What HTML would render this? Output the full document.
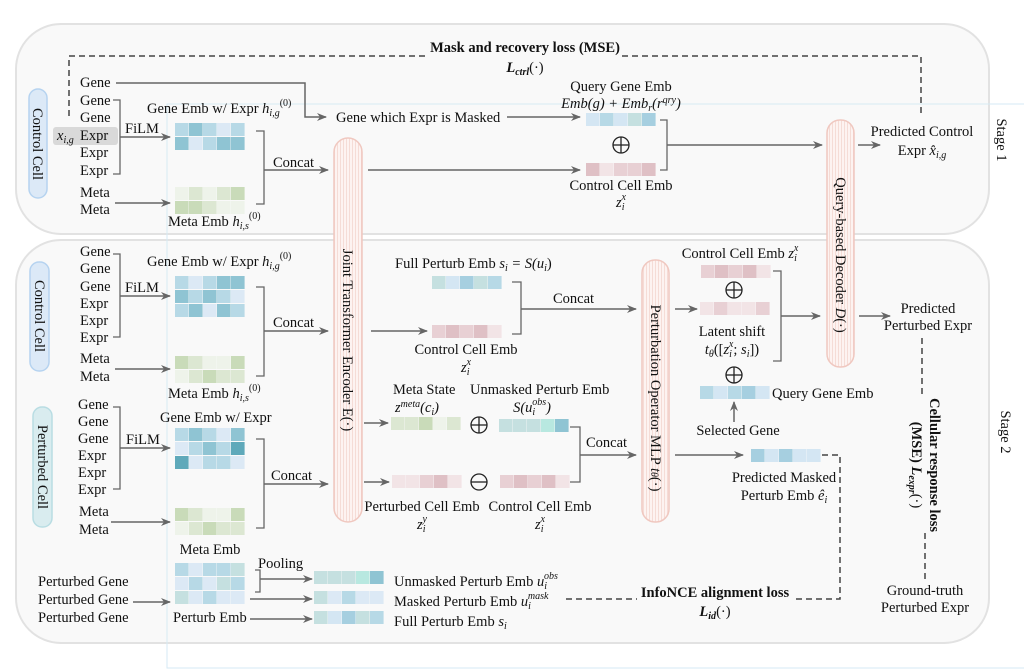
<!DOCTYPE html>
<html><head><meta charset="utf-8"><style>
body{margin:0;background:#fff}
svg{display:block}
text{font-family:"Liberation Serif",serif;font-size:14.5px;fill:#111}
.i{font-style:italic}
.b{font-weight:bold}
</style></head><body>
<svg width="1024" height="671" viewBox="0 0 1024 671" xmlns="http://www.w3.org/2000/svg">
<defs>
<marker id="a" markerWidth="10" markerHeight="10" refX="9" refY="5" orient="auto" markerUnits="userSpaceOnUse"><path d="M0,1 L10,5 L0,9 L3,5 Z" fill="#666"/></marker>
<pattern id="st" width="3" height="4" patternUnits="userSpaceOnUse"><rect width="3" height="4" fill="#fdf3f1"/><line x1="1.5" y1="0" x2="1.5" y2="4" stroke="#f3d6d0" stroke-width="0.8"/></pattern>
<g id="op"><circle r="8" fill="none" stroke="#222" stroke-width="1.3"/><line x1="-8" y1="0" x2="8" y2="0" stroke="#222" stroke-width="1.3"/><line x1="0" y1="-8" x2="0" y2="8" stroke="#222" stroke-width="1.3"/></g>
<g id="om"><circle r="8" fill="none" stroke="#222" stroke-width="1.3"/><line x1="-8" y1="0" x2="8" y2="0" stroke="#222" stroke-width="1.3"/></g>
</defs>
<rect x="16" y="24" width="973" height="210" rx="45" fill="#f9f9f9" stroke="#e2e2e2" stroke-width="2"/>
<rect x="16" y="240" width="973" height="403" rx="45" fill="#f9f9f9" stroke="#e2e2e2" stroke-width="2"/>
<rect x="167" y="104" width="870" height="564" fill="none" stroke="#d6eaf4" stroke-width="1"/>

<rect x="29" y="89" width="18" height="109" rx="9" fill="#dce9f7" stroke="#b6d3f0" stroke-width="1.5"/>
<text transform="translate(33,144) rotate(90)" text-anchor="middle">Control Cell</text>
<rect x="30" y="262" width="19" height="109" rx="9" fill="#dce9f7" stroke="#b6d3f0" stroke-width="1.5"/>
<text transform="translate(35,316) rotate(90)" text-anchor="middle">Control Cell</text>
<rect x="33" y="407" width="19" height="120" rx="9" fill="#d9ecef" stroke="#b9dde3" stroke-width="1.5"/>
<text transform="translate(38,467) rotate(90)" text-anchor="middle">Perturbed Cell</text>

<rect x="334" y="138" width="28" height="384" rx="14" fill="url(#st)" stroke="#f0c8c0" stroke-width="1.5"/>
<text transform="translate(343,340) rotate(90)" text-anchor="middle">Joint Transformer Encoder E(·)</text>
<rect x="642" y="260" width="27" height="262" rx="13" fill="url(#st)" stroke="#f0c8c0" stroke-width="1.5"/>
<text transform="translate(651,398) rotate(90)" text-anchor="middle">Perturbation Operator MLP  <tspan class="i">t</tspan><tspan font-size="10" class="i">θ</tspan>(·)</text>
<rect x="827" y="120" width="27" height="247" rx="13" fill="url(#st)" stroke="#f0c8c0" stroke-width="1.5"/>
<text transform="translate(836,255) rotate(90)" text-anchor="middle">Query-based Decoder <tspan class="i">D</tspan>(·)</text>

<g>
<text x="80" y="87">Gene</text><text x="80" y="105">Gene</text><text x="80" y="122">Gene</text>
<rect x="53" y="127" width="65" height="18" rx="3" fill="#d9d9d9"/>
<text x="57" y="140" class="i">x<tspan font-size="10" dy="3">i,g</tspan></text><text x="80" y="140">Expr</text>
<text x="80" y="157">Expr</text><text x="80" y="175">Expr</text>
<text x="80" y="197">Meta</text><text x="80" y="214">Meta</text>
</g>
<path d="M113,100 H120 V174 H113" fill="none" stroke="#666" stroke-width="1.3"/>
<text x="125" y="133">FiLM</text>
<line x1="120" y1="137" x2="170" y2="137" stroke="#666" stroke-width="1.5" marker-end="url(#a)"/>
<line x1="115" y1="203" x2="170" y2="203" stroke="#666" stroke-width="1.5" marker-end="url(#a)"/>
<text x="147" y="113">Gene Emb w/ Expr <tspan class="i">h</tspan><tspan font-size="10" dy="3" class="i">i,g</tspan><tspan font-size="10" dy="-10">(0)</tspan></text>
<text x="168" y="226">Meta Emb <tspan class="i">h</tspan><tspan font-size="10" dy="3" class="i">i,s</tspan><tspan font-size="10" dy="-10">(0)</tspan></text>
<g>
<rect x="175" y="123" width="13.6" height="13" fill="#b7d9e6"/><rect x="189" y="123" width="13.6" height="13" fill="#8fc4d3"/><rect x="203" y="123" width="13.6" height="13" fill="#b7d9e6"/><rect x="217" y="123" width="13.6" height="13" fill="#dce9f5"/><rect x="231" y="123" width="13.6" height="13" fill="#b7d9e6"/>
<rect x="175" y="137" width="13.6" height="13" fill="#8fc4d3"/><rect x="189" y="137" width="13.6" height="13" fill="#dce9f5"/><rect x="203" y="137" width="13.6" height="13" fill="#b7d9e6"/><rect x="217" y="137" width="13.6" height="13" fill="#8fc4d3"/><rect x="231" y="137" width="13.6" height="13" fill="#8fc4d3"/>
<rect x="175" y="187" width="13.6" height="13" fill="#eef3ea"/><rect x="189" y="187" width="13.6" height="13" fill="#dce7d2"/><rect x="203" y="187" width="13.6" height="13" fill="#eef3ea"/><rect x="217" y="187" width="13.6" height="13" fill="#dce7d2"/><rect x="231" y="187" width="13.6" height="13" fill="#c9dbb9"/>
<rect x="175" y="201" width="13.6" height="13" fill="#c9dbb9"/><rect x="189" y="201" width="13.6" height="13" fill="#c9dbb9"/><rect x="203" y="201" width="13.6" height="13" fill="#dce7d2"/><rect x="217" y="201" width="13.6" height="13" fill="#eef3ea"/><rect x="231" y="201" width="13.6" height="13" fill="#eef3ea"/>
</g>
<path d="M256,131 H264 V204 H256" fill="none" stroke="#666" stroke-width="1.3"/>
<text x="273" y="167">Concat</text>
<line x1="264" y1="170" x2="328" y2="170" stroke="#666" stroke-width="1.5" marker-end="url(#a)"/>
<path d="M116,83 H305 V117 H326" fill="none" stroke="#666" stroke-width="1.5" marker-end="url(#a)"/>
<text x="336" y="122">Gene which Expr is Masked</text>
<line x1="507" y1="117" x2="580" y2="117" stroke="#666" stroke-width="1.5" marker-end="url(#a)"/>
<line x1="368" y1="170" x2="580" y2="170" stroke="#666" stroke-width="1.5" marker-end="url(#a)"/>
<text x="621" y="91" text-anchor="middle">Query Gene Emb</text>
<text x="621" y="108" text-anchor="middle" class="i">Emb(g) + Emb<tspan font-size="10" dy="3">r</tspan><tspan dy="-3">(r</tspan><tspan font-size="10" dy="-5">qry</tspan><tspan dy="5">)</tspan></text>
<g><rect x="586" y="113" width="13.6" height="13" fill="#d4e6f3"/><rect x="600" y="113" width="13.6" height="13" fill="#b7d9e6"/><rect x="614" y="113" width="13.6" height="13" fill="#d4e6f3"/><rect x="628" y="113" width="13.6" height="13" fill="#c5e0e0"/><rect x="642" y="113" width="13.6" height="13" fill="#a6cfe0"/></g>
<use href="#op" x="621" y="145"/>
<g><rect x="586" y="163" width="13.6" height="13" fill="#dfc0c5"/><rect x="600" y="163" width="13.6" height="13" fill="#f2e4e6"/><rect x="614" y="163" width="13.6" height="13" fill="#e8d0d4"/><rect x="628" y="163" width="13.6" height="13" fill="#e8d0d4"/><rect x="642" y="163" width="13.6" height="13" fill="#dfc0c5"/></g>
<text x="621" y="190" text-anchor="middle">Control Cell Emb</text>
<text x="621" y="207" text-anchor="middle" class="i">z<tspan font-size="10" dy="3">i</tspan><tspan font-size="10" dy="-10" dx="-3">x</tspan></text>
<path d="M660,120 H667 V170 H660" fill="none" stroke="#666" stroke-width="1.3"/>
<line x1="667" y1="145" x2="822" y2="145" stroke="#666" stroke-width="1.5" marker-end="url(#a)"/>
<line x1="858" y1="145" x2="880" y2="145" stroke="#666" stroke-width="1.5" marker-end="url(#a)"/>
<text x="922" y="136" text-anchor="middle">Predicted Control</text>
<text x="922" y="155" text-anchor="middle">Expr <tspan class="i">x̂</tspan><tspan font-size="10" dy="3" class="i">i,g</tspan></text>
<text transform="translate(997,140) rotate(90)" text-anchor="middle" font-size="19">Stage 1</text>
<path d="M69,116 V56 H428" fill="none" stroke="#444" stroke-width="1.5" stroke-dasharray="6,4"/>
<path d="M622,56 H921 V117" fill="none" stroke="#444" stroke-width="1.5" stroke-dasharray="6,4"/>
<text x="525" y="52" text-anchor="middle" class="b">Mask and recovery loss (MSE)</text>
<text x="525" y="72" text-anchor="middle" class="b i">L<tspan font-size="10" dy="3">ctrl</tspan><tspan dy="-3" font-weight="normal" font-style="normal">(·)</tspan></text>

<g>
<text x="80" y="256">Gene</text><text x="80" y="273">Gene</text><text x="80" y="291">Gene</text>
<text x="80" y="308">Expr</text><text x="80" y="325">Expr</text><text x="80" y="342">Expr</text>
<text x="80" y="363">Meta</text><text x="80" y="381">Meta</text>
<text x="78" y="409">Gene</text><text x="78" y="426">Gene</text><text x="78" y="443">Gene</text>
<text x="78" y="460">Expr</text><text x="78" y="477">Expr</text><text x="78" y="494">Expr</text>
<text x="79" y="516">Meta</text><text x="79" y="534">Meta</text>
</g>
<path d="M113,254 H120 V337 H113" fill="none" stroke="#666" stroke-width="1.3"/>
<text x="125" y="292">FiLM</text>
<line x1="120" y1="296" x2="170" y2="296" stroke="#666" stroke-width="1.5" marker-end="url(#a)"/>
<line x1="115" y1="369" x2="170" y2="369" stroke="#666" stroke-width="1.5" marker-end="url(#a)"/>
<path d="M113,407 H120 V489 H113" fill="none" stroke="#666" stroke-width="1.3"/>
<text x="126" y="444">FiLM</text>
<line x1="120" y1="448" x2="170" y2="448" stroke="#666" stroke-width="1.5" marker-end="url(#a)"/>
<line x1="111" y1="522" x2="170" y2="522" stroke="#666" stroke-width="1.5" marker-end="url(#a)"/>
<text x="147" y="266">Gene Emb w/ Expr <tspan class="i">h</tspan><tspan font-size="10" dy="3" class="i">i,g</tspan><tspan font-size="10" dy="-10">(0)</tspan></text>
<text x="168" y="398">Meta Emb <tspan class="i">h</tspan><tspan font-size="10" dy="3" class="i">i,s</tspan><tspan font-size="10" dy="-10">(0)</tspan></text>
<text x="160" y="422">Gene Emb w/ Expr</text>
<text x="210" y="554" text-anchor="middle">Meta Emb</text>
<g>
<rect x="175" y="276" width="13.6" height="13" fill="#b7d9e6"/><rect x="189" y="276" width="13.6" height="13" fill="#dce9f5"/><rect x="203" y="276" width="13.6" height="13" fill="#b7d9e6"/><rect x="217" y="276" width="13.6" height="13" fill="#8fc4d3"/><rect x="231" y="276" width="13.6" height="13" fill="#8fc4d3"/>
<rect x="175" y="290" width="13.6" height="13" fill="#8fc4d3"/><rect x="189" y="290" width="13.6" height="13" fill="#b7d9e6"/><rect x="203" y="290" width="13.6" height="13" fill="#8fc4d3"/><rect x="217" y="290" width="13.6" height="13" fill="#b7d9e6"/><rect x="231" y="290" width="13.6" height="13" fill="#dce9f5"/>
<rect x="175" y="304" width="13.6" height="13" fill="#b7d9e6"/><rect x="189" y="304" width="13.6" height="13" fill="#8fc4d3"/><rect x="203" y="304" width="13.6" height="13" fill="#dce9f5"/><rect x="217" y="304" width="13.6" height="13" fill="#8fc4d3"/><rect x="231" y="304" width="13.6" height="13" fill="#b7d9e6"/>
<rect x="175" y="356" width="13.6" height="13" fill="#c9dbb9"/><rect x="189" y="356" width="13.6" height="13" fill="#dce7d2"/><rect x="203" y="356" width="13.6" height="13" fill="#eef3ea"/><rect x="217" y="356" width="13.6" height="13" fill="#eef3ea"/><rect x="231" y="356" width="13.6" height="13" fill="#c9dbb9"/>
<rect x="175" y="370" width="13.6" height="13" fill="#eef3ea"/><rect x="189" y="370" width="13.6" height="13" fill="#dce7d2"/><rect x="203" y="370" width="13.6" height="13" fill="#c9dbb9"/><rect x="217" y="370" width="13.6" height="13" fill="#dce7d2"/><rect x="231" y="370" width="13.6" height="13" fill="#dce7d2"/>
<rect x="175" y="428" width="13.6" height="13" fill="#b7d9e6"/><rect x="189" y="428" width="13.6" height="13" fill="#8fc4d3"/><rect x="203" y="428" width="13.6" height="13" fill="#b7d9e6"/><rect x="217" y="428" width="13.6" height="13" fill="#dce9f5"/><rect x="231" y="428" width="13.6" height="13" fill="#8fc4d3"/>
<rect x="175" y="442" width="13.6" height="13" fill="#dce9f5"/><rect x="189" y="442" width="13.6" height="13" fill="#b7d9e6"/><rect x="203" y="442" width="13.6" height="13" fill="#8fc4d3"/><rect x="217" y="442" width="13.6" height="13" fill="#b7d9e6"/><rect x="231" y="442" width="13.6" height="13" fill="#5fa9ba"/>
<rect x="175" y="456" width="13.6" height="13" fill="#5fa9ba"/><rect x="189" y="456" width="13.6" height="13" fill="#dce9f5"/><rect x="203" y="456" width="13.6" height="13" fill="#b7d9e6"/><rect x="217" y="456" width="13.6" height="13" fill="#b7d9e6"/><rect x="231" y="456" width="13.6" height="13" fill="#dce9f5"/>
<rect x="175" y="508" width="13.6" height="13" fill="#c9dbb9"/><rect x="189" y="508" width="13.6" height="13" fill="#dce7d2"/><rect x="203" y="508" width="13.6" height="13" fill="#eef3ea"/><rect x="217" y="508" width="13.6" height="13" fill="#eef3ea"/><rect x="231" y="508" width="13.6" height="13" fill="#c9dbb9"/>
<rect x="175" y="522" width="13.6" height="13" fill="#eef3ea"/><rect x="189" y="522" width="13.6" height="13" fill="#dce7d2"/><rect x="203" y="522" width="13.6" height="13" fill="#c9dbb9"/><rect x="217" y="522" width="13.6" height="13" fill="#dce7d2"/><rect x="231" y="522" width="13.6" height="13" fill="#dce7d2"/>
<rect x="175" y="563" width="13.6" height="13" fill="#b7d9e6"/><rect x="189" y="563" width="13.6" height="13" fill="#dce9f5"/><rect x="203" y="563" width="13.6" height="13" fill="#b7d9e6"/><rect x="217" y="563" width="13.6" height="13" fill="#b7d9e6"/><rect x="231" y="563" width="13.6" height="13" fill="#c5e0e0"/>
<rect x="175" y="577" width="13.6" height="13" fill="#dce9f5"/><rect x="189" y="577" width="13.6" height="13" fill="#b7d9e6"/><rect x="203" y="577" width="13.6" height="13" fill="#dce9f5"/><rect x="217" y="577" width="13.6" height="13" fill="#c5e0e0"/><rect x="231" y="577" width="13.6" height="13" fill="#b7d9e6"/>
<rect x="175" y="591" width="13.6" height="13" fill="#c5e0e0"/><rect x="189" y="591" width="13.6" height="13" fill="#dce9f5"/><rect x="203" y="591" width="13.6" height="13" fill="#b7d9e6"/><rect x="217" y="591" width="13.6" height="13" fill="#dce9f5"/><rect x="231" y="591" width="13.6" height="13" fill="#dce9f5"/>
</g>
<path d="M256,287 H264 V376 H256" fill="none" stroke="#666" stroke-width="1.3"/>
<text x="273" y="327">Concat</text>
<line x1="264" y1="331" x2="328" y2="331" stroke="#666" stroke-width="1.5" marker-end="url(#a)"/>
<path d="M256,439 H264 V528 H256" fill="none" stroke="#666" stroke-width="1.3"/>
<text x="271" y="480">Concat</text>
<line x1="264" y1="484" x2="328" y2="484" stroke="#666" stroke-width="1.5" marker-end="url(#a)"/>

<text x="38" y="586">Perturbed Gene</text><text x="38" y="604">Perturbed Gene</text><text x="38" y="622">Perturbed Gene</text>
<line x1="133" y1="602" x2="170" y2="602" stroke="#666" stroke-width="1.5" marker-end="url(#a)"/>
<text x="173" y="622">Perturb Emb</text>
<text x="258" y="568">Pooling</text>
<path d="M255,570 H260 V592 H255" fill="none" stroke="#666" stroke-width="1.3"/>
<line x1="260" y1="579" x2="312" y2="579" stroke="#666" stroke-width="1.5" marker-end="url(#a)"/>
<line x1="250" y1="599" x2="312" y2="599" stroke="#666" stroke-width="1.5" marker-end="url(#a)"/>
<line x1="250" y1="619" x2="312" y2="619" stroke="#666" stroke-width="1.5" marker-end="url(#a)"/>
<g>
<rect x="314" y="571" width="13.6" height="13" fill="#c5e0e0"/><rect x="328" y="571" width="13.6" height="13" fill="#c5e0e0"/><rect x="342" y="571" width="13.6" height="13" fill="#c5e0e0"/><rect x="356" y="571" width="13.6" height="13" fill="#b8e8e0"/><rect x="370" y="571" width="13.6" height="13" fill="#8fc4d3"/>
<rect x="314" y="591" width="13.6" height="13" fill="#c5e0e0"/><rect x="328" y="591" width="13.6" height="13" fill="#dce9f5"/><rect x="342" y="591" width="13.6" height="13" fill="#b7d9e6"/><rect x="356" y="591" width="13.6" height="13" fill="#dce9f5"/><rect x="370" y="591" width="13.6" height="13" fill="#dce9f5"/>
<rect x="314" y="611" width="13.6" height="13" fill="#c5e0e0"/><rect x="328" y="611" width="13.6" height="13" fill="#d4e6f3"/><rect x="342" y="611" width="13.6" height="13" fill="#a6cfe0"/><rect x="356" y="611" width="13.6" height="13" fill="#c5e0e0"/><rect x="370" y="611" width="13.6" height="13" fill="#b7d9e6"/>
</g>
<text x="394" y="586">Unmasked Perturb Emb <tspan class="i">u</tspan><tspan font-size="10" dy="3" class="i">i</tspan><tspan font-size="10" dy="-10" dx="-3" class="i">obs</tspan></text>
<text x="394" y="606">Masked Perturb Emb <tspan class="i">u</tspan><tspan font-size="10" dy="3" class="i">i</tspan><tspan font-size="10" dy="-10" dx="-3" class="i">mask</tspan></text>
<text x="394" y="626">Full Perturb Emb <tspan class="i">s</tspan><tspan font-size="10" dy="3" class="i">i</tspan></text>

<text x="395" y="268">Full Perturb Emb <tspan class="i">s</tspan><tspan font-size="10" dy="3" class="i">i</tspan><tspan dy="-3" class="i"> = S(u</tspan><tspan font-size="10" dy="3" class="i">i</tspan><tspan dy="-3">)</tspan></text>
<g><rect x="432" y="276" width="13.6" height="13" fill="#c5e0e0"/><rect x="446" y="276" width="13.6" height="13" fill="#d4e6f3"/><rect x="460" y="276" width="13.6" height="13" fill="#a6cfe0"/><rect x="474" y="276" width="13.6" height="13" fill="#c5e0e0"/><rect x="488" y="276" width="13.6" height="13" fill="#b7d9e6"/></g>
<line x1="371" y1="331" x2="427" y2="331" stroke="#666" stroke-width="1.5" marker-end="url(#a)"/>
<g><rect x="432" y="325" width="13.6" height="13" fill="#e8d0d4"/><rect x="446" y="325" width="13.6" height="13" fill="#dfc0c5"/><rect x="460" y="325" width="13.6" height="13" fill="#e8d0d4"/><rect x="474" y="325" width="13.6" height="13" fill="#dfc0c5"/><rect x="488" y="325" width="13.6" height="13" fill="#f2e4e6"/></g>
<text x="466" y="354" text-anchor="middle">Control Cell Emb</text>
<text x="466" y="372" text-anchor="middle" class="i">z<tspan font-size="10" dy="3">i</tspan><tspan font-size="10" dy="-10" dx="-3">x</tspan></text>
<path d="M512,282 H521 V334 H512" fill="none" stroke="#666" stroke-width="1.3"/>
<text x="553" y="303">Concat</text>
<line x1="521" y1="309" x2="636" y2="309" stroke="#666" stroke-width="1.5" marker-end="url(#a)"/>

<text x="393" y="394">Meta State</text>
<text x="395" y="412" class="i">z<tspan font-size="10" dy="-5">meta</tspan><tspan dy="5">(c</tspan><tspan font-size="10" dy="3">i</tspan><tspan dy="-3">)</tspan></text>
<line x1="364" y1="423" x2="388" y2="423" stroke="#666" stroke-width="1.5" marker-end="url(#a)"/>
<g><rect x="391" y="417" width="13.6" height="13" fill="#dce7d2"/><rect x="405" y="417" width="13.6" height="13" fill="#dce7d2"/><rect x="419" y="417" width="13.6" height="13" fill="#c9dbb9"/><rect x="433" y="417" width="13.6" height="13" fill="#eef3ea"/><rect x="447" y="417" width="13.6" height="13" fill="#dce7d2"/></g>
<use href="#op" x="479" y="425"/>
<text x="470" y="394">Unmasked Perturb Emb</text>
<text x="532" y="412" text-anchor="middle" class="i">S(u<tspan font-size="10" dy="3">i</tspan><tspan font-size="10" dy="-10" dx="-3">obs</tspan><tspan dy="7">)</tspan></text>
<g><rect x="499" y="419" width="13.6" height="13" fill="#c5e0e0"/><rect x="513" y="419" width="13.6" height="13" fill="#c5e0e0"/><rect x="527" y="419" width="13.6" height="13" fill="#c5e0e0"/><rect x="541" y="419" width="13.6" height="13" fill="#b8e8e0"/><rect x="555" y="419" width="13.6" height="13" fill="#8fc4d3"/></g>
<line x1="364" y1="482" x2="389" y2="482" stroke="#666" stroke-width="1.5" marker-end="url(#a)"/>
<g><rect x="392" y="475" width="13.6" height="13" fill="#f2e4e6"/><rect x="406" y="475" width="13.6" height="13" fill="#f2e4e6"/><rect x="420" y="475" width="13.6" height="13" fill="#e8d0d4"/><rect x="434" y="475" width="13.6" height="13" fill="#dfc0c5"/><rect x="448" y="475" width="13.6" height="13" fill="#f2e4e6"/></g>
<use href="#om" x="479" y="482"/>
<g><rect x="500" y="475" width="13.6" height="13" fill="#e8d0d4"/><rect x="514" y="475" width="13.6" height="13" fill="#dfc0c5"/><rect x="528" y="475" width="13.6" height="13" fill="#e8d0d4"/><rect x="542" y="475" width="13.6" height="13" fill="#dfc0c5"/><rect x="556" y="475" width="13.6" height="13" fill="#f2e4e6"/></g>
<text x="422" y="511" text-anchor="middle">Perturbed Cell Emb</text>
<text x="422" y="529" text-anchor="middle" class="i">z<tspan font-size="10" dy="3">i</tspan><tspan font-size="10" dy="-10" dx="-3">y</tspan></text>
<text x="540" y="511" text-anchor="middle">Control Cell Emb</text>
<text x="540" y="529" text-anchor="middle" class="i">z<tspan font-size="10" dy="3">i</tspan><tspan font-size="10" dy="-10" dx="-3">x</tspan></text>
<path d="M570,427 H580 V482 H570" fill="none" stroke="#666" stroke-width="1.3"/>
<text x="586" y="447">Concat</text>
<line x1="580" y1="455" x2="636" y2="455" stroke="#666" stroke-width="1.5" marker-end="url(#a)"/>

<text x="740" y="258" text-anchor="middle">Control Cell Emb <tspan class="i">z</tspan><tspan font-size="10" dy="3" class="i">i</tspan><tspan font-size="10" dy="-10" dx="-3" class="i">x</tspan></text>
<g><rect x="701" y="265" width="13.6" height="13" fill="#e8d0d4"/><rect x="715" y="265" width="13.6" height="13" fill="#dfc0c5"/><rect x="729" y="265" width="13.6" height="13" fill="#e8d0d4"/><rect x="743" y="265" width="13.6" height="13" fill="#dfc0c5"/><rect x="757" y="265" width="13.6" height="13" fill="#f2e4e6"/></g>
<use href="#op" x="734" y="290"/>
<line x1="675" y1="309" x2="697" y2="309" stroke="#666" stroke-width="1.5" marker-end="url(#a)"/>
<g><rect x="700" y="302" width="13.6" height="13" fill="#f2e4e6"/><rect x="714" y="302" width="13.6" height="13" fill="#e8d0d4"/><rect x="728" y="302" width="13.6" height="13" fill="#f2e4e6"/><rect x="742" y="302" width="13.6" height="13" fill="#f2e4e6"/><rect x="756" y="302" width="13.6" height="13" fill="#e8d0d4"/></g>
<text x="732" y="336" text-anchor="middle">Latent shift</text>
<text x="732" y="354" text-anchor="middle" class="i">t<tspan font-size="10" dy="3">θ</tspan><tspan dy="-3" font-style="normal">([</tspan>z<tspan font-size="10" dy="3">i</tspan><tspan font-size="10" dy="-10" dx="-3">x</tspan><tspan dy="7" font-style="normal">; </tspan>s<tspan font-size="10" dy="3">i</tspan><tspan dy="-3" font-style="normal">])</tspan></text>
<path d="M773,271 H781 V361 H773" fill="none" stroke="#666" stroke-width="1.3"/>
<line x1="781" y1="316" x2="820" y2="316" stroke="#666" stroke-width="1.5" marker-end="url(#a)"/>
<use href="#op" x="734" y="375"/>
<g><rect x="700" y="386" width="13.6" height="13" fill="#b7d9e6"/><rect x="714" y="386" width="13.6" height="13" fill="#d4e6f3"/><rect x="728" y="386" width="13.6" height="13" fill="#b7d9e6"/><rect x="742" y="386" width="13.6" height="13" fill="#a6cfe0"/><rect x="756" y="386" width="13.6" height="13" fill="#d4e6f3"/></g>
<text x="772" y="398">Query Gene Emb</text>
<line x1="734" y1="422" x2="734" y2="402" stroke="#666" stroke-width="1.5" marker-end="url(#a)"/>
<text x="738" y="435" text-anchor="middle">Selected Gene</text>
<line x1="675" y1="455" x2="743" y2="455" stroke="#666" stroke-width="1.5" marker-end="url(#a)"/>
<g><rect x="751" y="449" width="13.6" height="13" fill="#a6cfe0"/><rect x="765" y="449" width="13.6" height="13" fill="#d4e6f3"/><rect x="779" y="449" width="13.6" height="13" fill="#a6cfe0"/><rect x="793" y="449" width="13.6" height="13" fill="#d4e6f3"/><rect x="807" y="449" width="13.6" height="13" fill="#d4e6f3"/></g>
<text x="784" y="482" text-anchor="middle">Predicted Masked</text>
<text x="784" y="500" text-anchor="middle">Perturb Emb <tspan class="i">ê</tspan><tspan font-size="10" dy="3" class="i">i</tspan></text>
<line x1="859" y1="316" x2="890" y2="316" stroke="#666" stroke-width="1.5" marker-end="url(#a)"/>
<text x="928" y="313" text-anchor="middle">Predicted</text>
<text x="928" y="330" text-anchor="middle">Perturbed Expr</text>
<text transform="translate(1001,432) rotate(90)" text-anchor="middle" font-size="19">Stage 2</text>

<path d="M822,455 H840 V599 H793" fill="none" stroke="#444" stroke-width="1.5" stroke-dasharray="6,4"/>
<line x1="566" y1="599" x2="637" y2="599" stroke="#444" stroke-width="1.5" stroke-dasharray="6,4"/>
<text x="715" y="597" text-anchor="middle" class="b">InfoNCE alignment loss</text>
<text x="715" y="616" text-anchor="middle" class="b i">L<tspan font-size="10" dy="3">id</tspan><tspan dy="-3" font-weight="normal" font-style="normal">(·)</tspan></text>
<line x1="922" y1="338" x2="922" y2="397" stroke="#444" stroke-width="1.5" stroke-dasharray="6,4"/>
<line x1="925" y1="533" x2="925" y2="583" stroke="#444" stroke-width="1.5" stroke-dasharray="6,4"/>
<text transform="translate(930,465) rotate(90)" text-anchor="middle" class="b">Cellular response loss</text>
<text transform="translate(912,465) rotate(90)" text-anchor="middle" class="b">(MSE) <tspan class="i">L</tspan><tspan font-size="10" dy="3" class="i">expr</tspan><tspan dy="-3" font-weight="normal">(·)</tspan></text>
<text x="925" y="595" text-anchor="middle">Ground-truth</text>
<text x="925" y="612" text-anchor="middle">Perturbed Expr</text>
</svg>
</body></html>
